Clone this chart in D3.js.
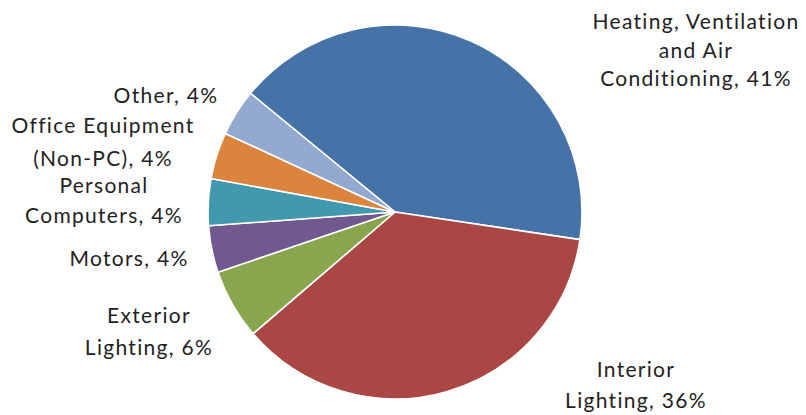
<!DOCTYPE html>
<html>
<head>
<meta charset="utf-8">
<script src="https://cdn.jsdelivr.net/npm/d3@7"></script>
<style>
  html, body { margin: 0; padding: 0; background: #ffffff; }
  svg { display: block; }
  text { font-family: Lato, "Open Sans", sans-serif; fill: #222222; }
</style>
</head>
<body>
<svg id="chart" width="806" height="415"></svg>
<script>
// Commercial building electricity end uses (share of total, %)
const categories = [
  "Heating, Ventilation and Air Conditioning",
  "Interior Lighting",
  "Exterior Lighting",
  "Motors",
  "Personal Computers",
  "Office Equipment (Non-PC)",
  "Other"
];
const shares = [41, 36, 6, 4, 4, 4, 4];
const sliceColors = ["#4572A7", "#AA4643", "#89A54E", "#71588F", "#4198AF", "#DB843D", "#93A9CF"];

// Label text broken into lines, and where each block is placed
const labelLines = [
  ["Heating, Ventilation", "and Air", "Conditioning, 41%"],
  ["Interior", "Lighting, 36%"],
  ["Exterior", "Lighting, 6%"],
  ["Motors, 4%"],
  ["Personal", "Computers, 4%"],
  ["Office Equipment", "(Non-PC), 4%"],
  ["Other, 4%"]
];
const labelLayout = [
  { x: 696, y: 29, lh: 28.5 },
  { x: 636, y: 377, lh: 31 },
  { x: 149, y: 323, lh: 32 },
  { x: 129, y: 266, lh: 31 },
  { x: 104, y: 193, lh: 30 },
  { x: 103, y: 133, lh: 33 },
  { x: 166, y: 103, lh: 31 }
];

const svg = d3.select("#chart");
const cx = 395, cy = 212, radius = 187;

const data = categories.map((c, i) => ({ name: c, value: shares[i], i }));

const pie = d3.pie()
  .value(d => d.value)
  .sort(null)
  .startAngle(-50.6 * Math.PI / 180)
  .endAngle((360 - 50.6) * Math.PI / 180);

const arc = d3.arc().innerRadius(0).outerRadius(radius);

const g = svg.append("g").attr("transform", `translate(${cx},${cy})`);

g.selectAll("path.slice")
  .data(pie(data))
  .join("path")
  .attr("class", "slice")
  .attr("d", arc)
  .attr("fill", d => sliceColors[d.data.i])
  .attr("stroke", "#ffffff")
  .attr("stroke-width", 1.6)
  .attr("stroke-linejoin", "round");

const labels = svg.append("g").attr("class", "labels");
labelLines.forEach((lines, i) => {
  const L = labelLayout[i];
  const t = labels.append("text")
    .attr("text-anchor", "middle")
    .attr("font-size", 21)
    .attr("letter-spacing", 1.3);
  lines.forEach((line, j) => {
    t.append("tspan")
      .attr("x", L.x)
      .attr("y", L.y + j * L.lh)
      .text(line);
  });
});
</script>
</body>
</html>
